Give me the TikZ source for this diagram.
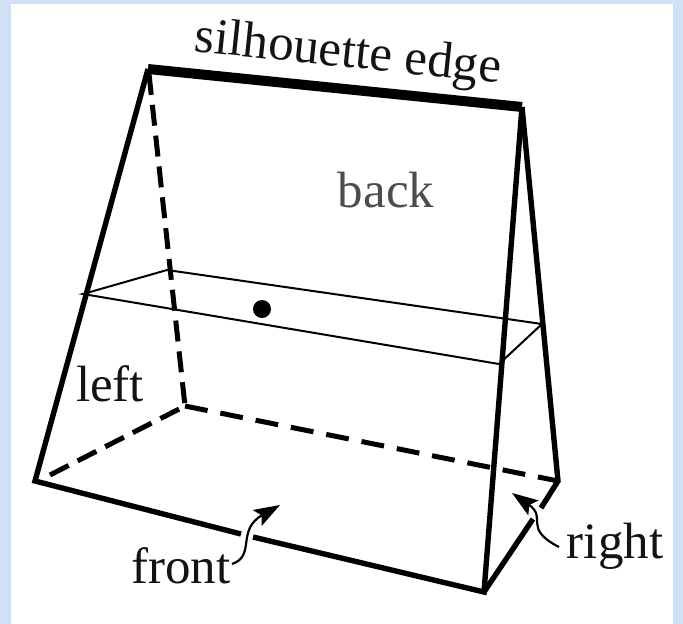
\documentclass[tikz,border=0pt]{standalone}
\usepackage{fontspec}
\setmainfont{Liberation Serif}
\usetikzlibrary{arrows.meta}
\tikzset{
  solidedge/.style={line width=5.4pt,line cap=butt,line join=miter},
  hiddenedge/.style={line width=5pt,dash pattern=on 21pt off 10pt},
  silhouette/.style={line width=10pt,line cap=butt},
  sliceedge/.style={line width=2pt,line join=miter},
  pointer/.style={line width=2.2pt,-{Stealth[length=26pt,width=18pt,inset=5pt]}},
  lab/.style={inner sep=0pt,font=\fontsize{51}{51}\selectfont,text=black!92},
}
\definecolor{pagebg}{HTML}{CFE0F7}
\begin{document}
\begin{tikzpicture}[x=1pt,y=-1pt]
\useasboundingbox (0,0) rectangle (683,624);
\fill[pagebg] (0,0) rectangle (683,624);
\fill[white] (11,4) rectangle (673,624);
% vertices
\coordinate (A) at (148,69);
\coordinate (B) at (522,107);
\coordinate (C) at (35,481);
\coordinate (D) at (484,592);
\coordinate (E) at (185,406);
\coordinate (F) at (558,481);
\coordinate (CEs) at (50,475);
\coordinate (AEs) at (149,74);
\coordinate (g1) at (241,534);
\coordinate (g2) at (253,537);
\coordinate (g3) at (533,519);
\coordinate (g4) at (541,508);
\coordinate (S1) at (83,294);
\coordinate (S2) at (167,270);
\coordinate (S3) at (542,324);
\coordinate (S4) at (499,364);
% hidden edges
\draw[hiddenedge] (AEs) -- (E);
\draw[hiddenedge] (CEs) -- (E);
\draw[hiddenedge,dash pattern=on 23pt off 13pt] (E) -- (F);
% slice
\draw[sliceedge] (S1) -- (S2) -- (S3) -- (S4) -- cycle;
% solid edges
\draw[solidedge] (A) -- (C) -- (g1);
\draw[solidedge] (g2) -- (D) -- (B);
\draw[solidedge] (D) -- (g3);
\draw[solidedge] (B) -- (F) -- (g4);
\draw[silhouette] (A) -- (B);
% centre dot
\node[circle,fill=black,inner sep=0pt,minimum size=18pt] (dot) at (262,309) {};
% labels
\node[lab,rotate=-6] (sil) at (348,55) {silhouette edge};
\node[lab,text=black!70] (back) at (386,190) {back};
\node[lab] (left) at (110,384) {left};
\node[lab] (front) at (181,566) {front};
\node[lab] (right) at (615,546) {right};
% pointers
\coordinate (ft) at (280,505);
\coordinate (rt) at (512,493);
\draw[pointer] (232,564) .. controls (256,556) and (236,530) .. (ft);
\draw[pointer] (559,547) .. controls (522,528) and (548,518) .. (rt);
\end{tikzpicture}
\end{document}
